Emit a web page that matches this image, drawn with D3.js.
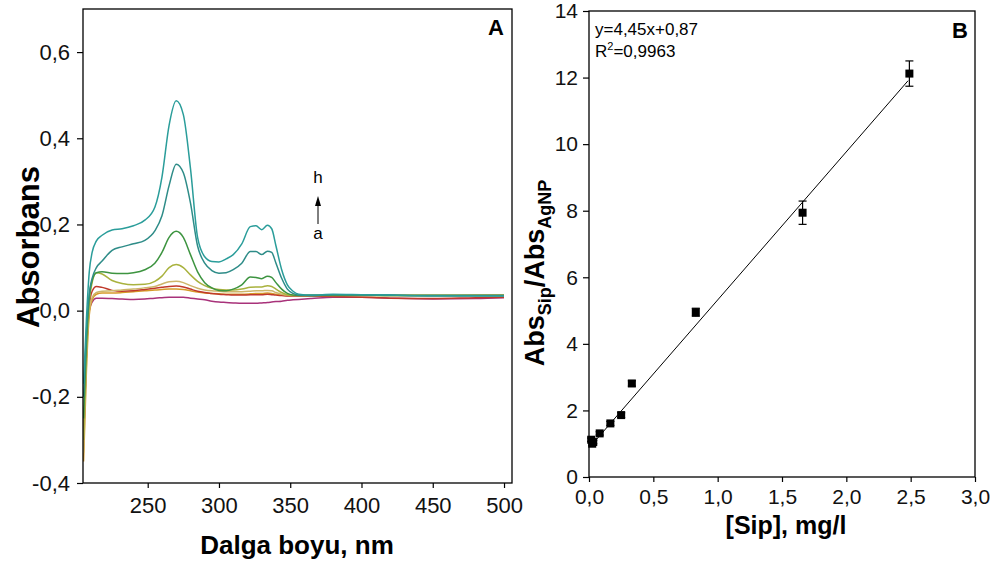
<!DOCTYPE html>
<html><head><meta charset="utf-8">
<script src="https://cdn.jsdelivr.net/npm/d3@7"></script>
<style>
body{margin:0;background:#fff;}
svg{display:block;font-family:"Liberation Sans",Arial,sans-serif;}
</style></head>
<body>
<svg id="chart" width="993" height="568"></svg>
<script>
// ---------- Panel A data (UV-Vis spectra a..h) ----------
const wavelengths = [205,207,209,211,214,218,225,232,240,248,255,260,265,270,275,280,285,290,295,300,305,310,316,322,326,330,334,337,340,344,348,352,356,365,380,400,420,450,480,500];
const specA = [-0.30,-0.10,0.00,0.020,0.029,0.029,0.028,0.027,0.026,0.027,0.029,0.030,0.031,0.031,0.031,0.029,0.027,0.025,0.022,0.020,0.019,0.018,0.017,0.017,0.017,0.018,0.019,0.020,0.021,0.022,0.024,0.025,0.026,0.028,0.031,0.031,0.029,0.027,0.028,0.030];
const specB = [-0.35,-0.14,-0.01,0.025,0.038,0.041,0.041,0.042,0.044,0.046,0.048,0.049,0.050,0.050,0.049,0.046,0.043,0.041,0.040,0.039,0.038,0.038,0.038,0.039,0.040,0.040,0.041,0.040,0.038,0.036,0.035,0.035,0.035,0.035,0.035,0.035,0.035,0.035,0.036,0.037];
const specC = [-0.30,-0.10,0.01,0.045,0.056,0.054,0.047,0.045,0.046,0.049,0.052,0.054,0.056,0.057,0.055,0.050,0.045,0.042,0.040,0.038,0.037,0.036,0.036,0.037,0.037,0.037,0.038,0.037,0.036,0.035,0.034,0.034,0.034,0.034,0.033,0.031,0.029,0.028,0.030,0.031];
const specD = [-0.33,-0.12,0.00,0.030,0.042,0.045,0.046,0.048,0.050,0.053,0.056,0.062,0.067,0.068,0.065,0.058,0.052,0.048,0.046,0.045,0.044,0.044,0.044,0.045,0.046,0.046,0.047,0.046,0.042,0.038,0.036,0.036,0.036,0.036,0.036,0.036,0.036,0.036,0.036,0.036];
const specE = [-0.30,-0.10,0.02,0.065,0.088,0.085,0.070,0.063,0.060,0.061,0.068,0.080,0.100,0.107,0.100,0.083,0.068,0.058,0.052,0.049,0.048,0.048,0.050,0.054,0.055,0.055,0.058,0.056,0.050,0.042,0.037,0.035,0.035,0.035,0.035,0.035,0.035,0.035,0.035,0.035];
const specF = [-0.25,-0.08,0.03,0.070,0.088,0.090,0.087,0.086,0.088,0.095,0.110,0.135,0.170,0.184,0.170,0.130,0.090,0.065,0.053,0.047,0.046,0.050,0.060,0.078,0.077,0.074,0.080,0.077,0.065,0.050,0.040,0.036,0.035,0.035,0.036,0.036,0.035,0.035,0.035,0.035];
const specG = [-0.20,-0.05,0.04,0.075,0.100,0.115,0.140,0.148,0.155,0.163,0.185,0.220,0.290,0.340,0.320,0.250,0.150,0.110,0.093,0.087,0.088,0.095,0.110,0.137,0.137,0.130,0.138,0.135,0.110,0.075,0.050,0.040,0.036,0.035,0.037,0.037,0.036,0.035,0.035,0.035];
const specH = [-0.17,-0.02,0.09,0.135,0.162,0.175,0.187,0.190,0.197,0.210,0.240,0.310,0.430,0.487,0.455,0.330,0.170,0.125,0.114,0.113,0.120,0.130,0.155,0.195,0.197,0.188,0.198,0.190,0.150,0.095,0.060,0.045,0.038,0.036,0.038,0.037,0.036,0.034,0.034,0.034];
const spectraNames = ["a","b","c","d","e","f","g","h"];
const spectraColors = ["#a8327a","#d69a2a","#c0392b","#cdb66a","#a9b23e","#3d9440","#2e8c88","#2a9d9a"];
const yTicksA = [-0.4,-0.2,0.0,0.2,0.4,0.6];
const xTicksA = [250,300,350,400,450,500];

// ---------- Panel B data (calibration) ----------
const sipConc = [0.017,0.025,0.033,0.083,0.166,0.25,0.333,0.83,1.66,2.49];
const absRatio = [1.12,1.00,1.05,1.31,1.61,1.86,2.81,4.95,7.94,12.12];
const absRatioErr = [0.05,0.05,0.05,0.05,0.06,0.07,0.08,0.12,0.35,0.38];
const fitSlope = 4.45, fitIntercept = 0.87, fitRange = [0.02, 2.48];
const xTicksB = [0,0.5,1.0,1.5,2.0,2.5,3.0];
const yTicksB = [0,2,4,6,8,10,12,14];

const fmtComma = d => d3.format(".1f")(d).replace("−","-").replace(".",",");
const svg = d3.select("#chart");

// ================= Panel A =================
const A = {l:83, r:512, t:9, b:483};
const xA = d3.scaleLinear().domain([204.6,505.6]).range([A.l,A.r]);
const yA = d3.scaleLinear().domain([-0.4,0.7]).range([A.b,A.t]);

svg.append("clipPath").attr("id","clipA").append("rect")
  .attr("x",A.l).attr("y",A.t).attr("width",A.r-A.l).attr("height",A.b-A.t);

const series = [specA,specB,specC,specD,specE,specF,specG,specH];
const lineA = d3.line().x((d,i)=>xA(wavelengths[i])).y(d=>yA(d)).curve(d3.curveMonotoneX);
svg.append("g").attr("clip-path","url(#clipA)")
  .selectAll("path").data(series).join("path")
  .attr("d",d=>lineA(d)).attr("fill","none")
  .attr("stroke",(d,i)=>spectraColors[i]).attr("stroke-width",1.5);

svg.append("rect").attr("x",A.l).attr("y",A.t).attr("width",A.r-A.l).attr("height",A.b-A.t)
  .attr("fill","none").attr("stroke","#000").attr("stroke-width",1.3);

const axAy = svg.append("g").attr("transform",`translate(${A.l},0)`)
  .call(d3.axisLeft(yA).tickValues(yTicksA).tickFormat(fmtComma).tickSize(6).tickPadding(7));
const axAx = svg.append("g").attr("transform",`translate(0,${A.b})`)
  .call(d3.axisBottom(xA).tickValues(xTicksA).tickFormat(d3.format("d")).tickSize(5).tickPadding(9));
[axAy,axAx].forEach(g=>{
  g.select(".domain").remove();
  g.selectAll("line").attr("stroke","#000").attr("stroke-width",1.2);
  g.selectAll("text").attr("font-size",22).attr("fill","#111").attr("font-family","Liberation Sans, Arial, sans-serif");
});

svg.append("text").attr("transform","translate(39,247) rotate(-90)").attr("text-anchor","middle")
  .attr("font-size",31).attr("font-weight","bold").text("Absorbans");
svg.append("text").attr("x",297).attr("y",554).attr("text-anchor","middle")
  .attr("font-size",26).attr("font-weight","bold").text("Dalga boyu, nm");
svg.append("text").attr("x",504).attr("y",35).attr("text-anchor","end")
  .attr("font-size",22).attr("font-weight","bold").text("A");

// h / a arrow annotation
svg.append("text").attr("x",318).attr("y",183).attr("text-anchor","middle").attr("font-size",17).text("h");
svg.append("text").attr("x",318).attr("y",239).attr("text-anchor","middle").attr("font-size",17).text("a");
svg.append("line").attr("x1",318).attr("x2",318).attr("y1",224).attr("y2",204).attr("stroke","#000").attr("stroke-width",1);
svg.append("path").attr("d","M318,196 L315,206 L321,206 Z").attr("fill","#000");

// ================= Panel B =================
const B = {l:589, r:975, t:11, b:477};
const xB = d3.scaleLinear().domain([0,3]).range([B.l,B.r]);
const yB = d3.scaleLinear().domain([0,14]).range([B.b,B.t]);

svg.append("rect").attr("x",B.l).attr("y",B.t).attr("width",B.r-B.l).attr("height",B.b-B.t)
  .attr("fill","none").attr("stroke","#000").attr("stroke-width",1.3);

const axBy = svg.append("g").attr("transform",`translate(${B.l},0)`)
  .call(d3.axisLeft(yB).tickValues(yTicksB).tickFormat(d3.format("d")).tickSize(6).tickPadding(5));
const axBx = svg.append("g").attr("transform",`translate(0,${B.b})`)
  .call(d3.axisBottom(xB).tickValues(xTicksB).tickFormat(fmtComma).tickSize(5).tickPadding(7));
[axBy,axBx].forEach(g=>{
  g.select(".domain").remove();
  g.selectAll("line").attr("stroke","#000").attr("stroke-width",1.2);
  g.selectAll("text").attr("font-size",21).attr("fill","#111").attr("font-family","Liberation Sans, Arial, sans-serif");
});

// fit line
svg.append("line")
  .attr("x1",xB(fitRange[0])).attr("y1",yB(fitSlope*fitRange[0]+fitIntercept))
  .attr("x2",xB(fitRange[1])).attr("y2",yB(fitSlope*fitRange[1]+fitIntercept))
  .attr("stroke","#000").attr("stroke-width",1);

// error bars
const eb = svg.append("g").attr("stroke","#000").attr("stroke-width",1.2);
sipConc.forEach((x,i)=>{
  const cx = xB(x), y1 = yB(absRatio[i]-absRatioErr[i]), y2 = yB(absRatio[i]+absRatioErr[i]);
  eb.append("line").attr("x1",cx).attr("x2",cx).attr("y1",y1).attr("y2",y2);
  eb.append("line").attr("x1",cx-4).attr("x2",cx+4).attr("y1",y1).attr("y2",y1);
  eb.append("line").attr("x1",cx-4).attr("x2",cx+4).attr("y1",y2).attr("y2",y2);
});
svg.append("g").selectAll("rect").data(sipConc).join("rect")
  .attr("x",d=>xB(d)-4).attr("y",(d,i)=>yB(absRatio[i])-4)
  .attr("width",8).attr("height",8).attr("fill","#000");

// labels
svg.append("text").attr("x",595).attr("y",35).attr("font-size",17).text("y=4,45x+0,87");
const r2 = svg.append("text").attr("x",595).attr("y",57).attr("font-size",17);
r2.append("tspan").text("R");
r2.append("tspan").attr("font-size",11).attr("dy",-7).text("2");
r2.append("tspan").attr("dy",7).text("=0,9963");
svg.append("text").attr("x",968).attr("y",38).attr("text-anchor","end")
  .attr("font-size",22).attr("font-weight","bold").text("B");

const yl = svg.append("text").attr("transform","translate(544,273) rotate(-90)").attr("text-anchor","middle")
  .attr("font-size",27).attr("font-weight","bold");
yl.append("tspan").text("Abs");
yl.append("tspan").attr("font-size",18).attr("dy",7).text("Sip");
yl.append("tspan").attr("dy",-7).text("/Abs");
yl.append("tspan").attr("font-size",18).attr("dy",7).text("AgNP");
svg.append("text").attr("x",786).attr("y",534).attr("text-anchor","middle")
  .attr("font-size",25).attr("font-weight","bold").text("[Sip], mg/l");
</script>
</body></html>
